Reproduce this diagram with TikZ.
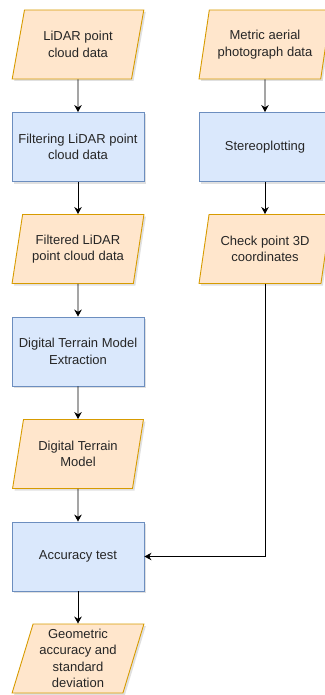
\documentclass[tikz,border=0pt]{standalone}
\usepackage{fontspec}
\setmainfont{Liberation Sans}
\usetikzlibrary{shapes.geometric, arrows.meta, shadows}
\definecolor{datafill}{HTML}{FFE6CC}
\definecolor{dataline}{HTML}{D79B00}
\definecolor{procfill}{HTML}{DAE8FC}
\definecolor{procline}{HTML}{6C8EBF}
\begin{document}
\begin{tikzpicture}[x=1pt, y=1pt, font=\fontsize{13}{16.5}\selectfont, text=black!85,
    data/.style={trapezium, trapezium left angle=73, trapezium right angle=107, trapezium stretches=true, minimum width=132pt, minimum height=69pt, inner sep=0pt, align=center, fill=datafill, draw=dataline, line width=0.9pt, drop shadow={shadow xshift=2pt, shadow yshift=-2pt, fill=black!30, opacity=0.4}},
    proc/.style={rectangle, minimum width=132pt, minimum height=69pt, inner sep=0pt, align=center, fill=procfill, draw=procline, line width=0.9pt, drop shadow={shadow xshift=2pt, shadow yshift=-2pt, fill=black!30, opacity=0.4}},
    flow/.style={-{Stealth[length=7pt, width=7.5pt]}, line width=0.8pt}]
    \useasboundingbox (0,0) rectangle (324,-695);
		\node[data] (lidar) at (78,-44.5) {LiDAR point\\cloud data};
		\node[proc] (filter) at (78,-147) {Filtering LiDAR point\\cloud data};
		\node[data] (filtered) at (78,-249) {Filtered LiDAR\\point cloud data};
		\node[proc] (extract) at (78,-351.5) {Digital Terrain Model\\Extraction};
		\node[data] (dtm) at (78,-454) {Digital Terrain\\Model};
		\node[proc] (test) at (78,-556.5) {Accuracy test};
		\node[data] (result) at (78,-658.5) {Geometric\\accuracy and\\standard\\deviation};
		\node[data] (photo) at (265,-44.5) {Metric aerial\\photograph data};
		\node[proc] (stereo) at (265,-147) {Stereoplotting};
		\node[data] (check) at (265,-249) {Check point 3D\\coordinates};
		\draw[flow] (lidar) -- (filter);
		\draw[flow] (filter) -- (filtered);
		\draw[flow] (filtered) -- (extract);
		\draw[flow] (extract) -- (dtm);
		\draw[flow] (dtm) -- (test);
		\draw[flow] (test) -- (result);
		\draw[flow] (photo) -- (stereo);
		\draw[flow] (stereo) -- (check);
		\draw[flow] (check) |- (test);
	\end{tikzpicture}
\end{document}
